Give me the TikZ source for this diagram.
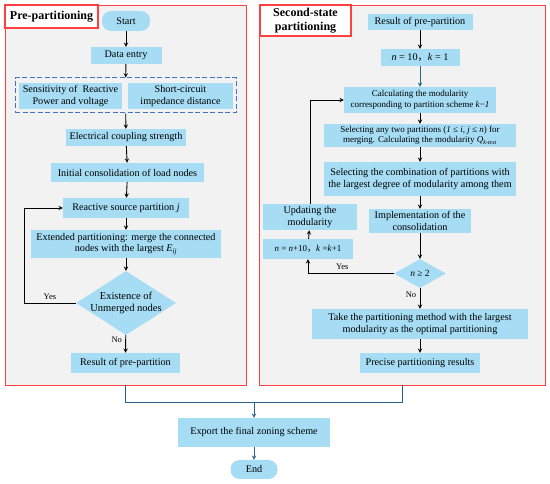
\documentclass[tikz,border=0pt]{standalone}
\usepackage{fontspec}
\setmainfont{Liberation Serif}
\newfontfamily\cjkfont{Noto Sans CJK SC}
\usetikzlibrary{shapes.geometric, arrows}
\definecolor{boxblue}{RGB}{166, 221, 244}
\definecolor{panelgray}{RGB}{242, 242, 242}
\definecolor{panelred}{RGB}{255, 64, 64}
\definecolor{groupblue}{RGB}{68, 114, 196}
\definecolor{linkteal}{RGB}{38, 100, 135}
\tikzstyle{arrow} = [line width=0.9pt,->,>=stealth]
\tikzstyle{link} = [line width=0.8pt, draw=linkteal]
\tikzstyle{process} = [rectangle, fill=boxblue, text centered, align=center, inner sep=1pt, font=\fontsize{10.2}{11.5}\selectfont]
\tikzstyle{smallprocess} = [process, font=\fontsize{9}{10.5}\selectfont]
\tikzstyle{terminal} = [process, rounded corners=9pt]
\tikzstyle{decision} = [diamond, fill=boxblue, align=center, inner sep=-1pt, font=\fontsize{10.5}{12}\selectfont]
\tikzstyle{panel} = [rectangle, fill=panelgray, draw=panelred, line width=0.9pt]
\tikzstyle{paneltitle} = [rectangle, fill=white, draw=panelred, line width=1.4pt, align=center, font=\bfseries\fontsize{12}{13.5}\selectfont]
\tikzstyle{flowlabel} = [font=\fontsize{8.5}{9.5}\selectfont]

\begin{document}
\begin{tikzpicture}[x=1pt, y=-1pt]
        \useasboundingbox (0,0) rectangle (550,484);

        % Panels
        \node (prepanel) at (125.5,195) [panel, minimum width=241, minimum height=380] {};
        \node (secpanel) at (402,195) [panel, minimum width=286, minimum height=380] {};
        \node (pretitle) at (51.5,16.5) [paneltitle, minimum width=93, minimum height=23] {Pre-partitioning};
        \node (sectitle) at (305.5,20.5) [paneltitle, minimum width=91, minimum height=31] {Second-state\\partitioning};

        % Pre-partitioning steps
        \node (start) at (126,21) [terminal, minimum width=48, minimum height=20] {Start};
        \node (dataentry) at (126,55.5) [process, minimum width=71, minimum height=17] {Data entry};
        \node (sourcegroup) at (125.5,95.5) [draw=groupblue, dash pattern=on 5pt off 2.5pt, line width=1pt, minimum width=221, minimum height=35] {};
        \node (sensitivity) at (70.5,96) [process, minimum width=103, minimum height=26] {Sensitivity of\ \ Reactive\\Power and voltage};
        \node (impedance) at (180.5,96) [process, minimum width=105, minimum height=26] {Short-circuit\\impedance distance};
        \node (coupling) at (126,137.5) [process, minimum width=120, minimum height=17] {Electrical coupling strength};
        \node (consolidation) at (127.5,172.5) [process, minimum width=153, minimum height=19] {Initial consolidation of load nodes};
        \node (reactive) at (126,208) [process, minimum width=126, minimum height=20] {Reactive source partition \textit{j}};
        \node (extended) at (126,244) [process, minimum width=190, minimum height=28] {Extended partitioning: merge the connected\\nodes with the largest \textit{E}\textsubscript{\textit{ij}}};
        \node (unmerged) at (126,303) [decision, aspect=1.56] {Existence of\\Unmerged nodes};
        \node (prepartition) at (125.5,363) [process, minimum width=109, minimum height=20] {Result of pre-partition};

        \draw [arrow] (start) -- (dataentry);
        \draw [arrow] (dataentry) -- (sourcegroup);
        \draw [arrow] (sourcegroup) -- (coupling);
        \draw [arrow] (coupling) -- (consolidation);
        \draw [arrow] (consolidation) -- (reactive);
        \draw [arrow] (reactive) -- (extended);
        \draw [arrow] (extended) -- (unmerged);
        \draw [arrow] (unmerged) -- node[left, pos=0.25, flowlabel] {No} (prepartition);
        \draw [arrow] (unmerged.west) -- node[above, flowlabel] {Yes} (24,303) |- (reactive.west);

        % Second-state steps
        \node (prepartres) at (420,22) [process, minimum width=105, minimum height=16] {Result of pre-partition};
        \node (ninit) at (420,57.5) [process, minimum width=79, minimum height=17] {\textit{n} = 10{\cjkfont ，}\textit{k} = 1};
        \node (modularity) at (420,100) [smallprocess, minimum width=152, minimum height=26] {Calculating the modularity\\corresponding to partition scheme \textit{k}−\textit{1}};
        \node (selectpair) at (420,135.5) [smallprocess, minimum width=192, minimum height=23] {Selecting any two partitions (\textit{1} ≤ \textit{i}, \textit{j} ≤ \textit{n}) for\\merging. Calculating the modularity \textit{Q}\textsubscript{\textit{k-test}}};
        \node (selectmax) at (420,179) [process, minimum width=192, minimum height=34] {Selecting the combination of partitions with\\the largest degree of modularity among them};
        \node (implement) at (420,221) [process, minimum width=102, minimum height=24] {Implementation of the\\consolidation};
        \node (update) at (310,217) [process, minimum width=94, minimum height=26] {Updating the\\modularity};
        \node (increment) at (308,249) [smallprocess, minimum width=90, minimum height=20] {\textit{n} = \textit{n}+10{\cjkfont ，}\textit{k} =\textit{k}+1};
        \node (checkn) at (420,273.5) [decision, minimum width=52, minimum height=29, font=\fontsize{9.5}{10.5}\selectfont] {\textit{n} ≥ 2};
        \node (optimal) at (420,324) [process, minimum width=216, minimum height=30] {Take the partitioning method with the largest\\modularity as the optimal partitioning};
        \node (precise) at (420,363) [process, minimum width=120, minimum height=20] {Precise partitioning results};

        \draw [arrow] (prepartres) -- (ninit);
        \draw [arrow, linkteal] (ninit) -- (modularity);
        \draw [arrow] (modularity) -- (selectpair);
        \draw [arrow] (selectpair) -- (selectmax);
        \draw [arrow] (selectmax) -- (implement);
        \draw [arrow] (implement) -- (checkn);
        \draw [arrow] (checkn) -- node[left, pos=0.3, flowlabel] {No} (optimal);
        \draw [arrow] (optimal) -- (precise);
        \draw [arrow] (checkn.west) -| node[above, pos=0.3, flowlabel] {Yes} (increment.south);
        \draw [arrow] (increment) -- (update);
        \draw [arrow] (update.north) |- (modularity.west);

        % Final steps
        \coordinate (merge) at (254,402);
        \node (export) at (254,432.5) [process, minimum width=152, minimum height=29] {Export the final zoning scheme};
        \node (finish) at (254,469.5) [terminal, minimum width=47, minimum height=19] {End};

        \draw [link] (prepanel.south) -- ++(0,17) -| (secpanel.south);
        \draw [arrow, linkteal] (merge) -- (export);
        \draw [arrow, linkteal] (export) -- (finish);
    \end{tikzpicture}
\end{document}
